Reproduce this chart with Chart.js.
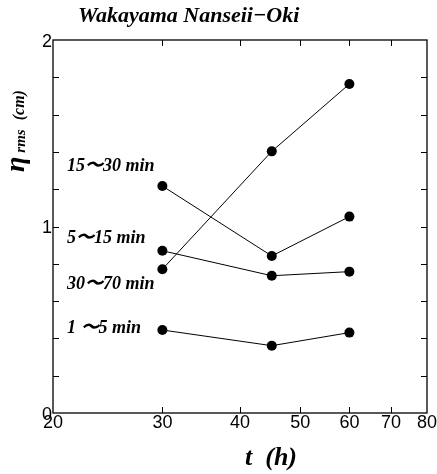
<!DOCTYPE html>
<html><head><meta charset="utf-8">
<script src="https://cdn.jsdelivr.net/npm/chart.js@4.4.1/dist/chart.umd.min.js"></script>
<style>html,body{margin:0;padding:0;background:#fff;}canvas{display:block;}</style>
</head><body>
<canvas id="c" width="437" height="474"></canvas>
<script>
// ---- data ----
const times = [30, 45, 60];
const series1to5   = [0.445, 0.361, 0.431];
const series5to15  = [0.870, 0.736, 0.758];
const series15to30 = [1.217, 0.842, 1.053];
const series30to70 = [0.771, 1.403, 1.764];
const seriesNames = ['1 〜5 min', '5〜15 min', '15〜30 min', '30〜70 min'];
const xTickLabels = [20, 30, 40, 50, 60, 70, 80];
const yTickLabels = [0, 1, 2];
const yMinorTicks = [0.2, 0.4, 0.6, 0.8, 1.0, 1.2, 1.4, 1.6, 1.8];
const chartTitle = 'Wakayama Nanseii\u2212Oki';

const allSeries = [series1to5, series5to15, series15to30, series30to70];
// vertical (value) anchors for the series name labels, placed left of the first points
const labelAnchors = [0.456, 0.938, 1.324, 0.692];

const SERIF = '"Liberation Serif", "Times New Roman", serif';
const SANS = '"Liberation Sans", Arial, sans-serif';

const framePlugin = {
  id: 'frame',
  afterDatasetsDraw(chart) {
    const {ctx, chartArea: a, scales: {x, y}} = chart;
    ctx.save();
    ctx.strokeStyle = '#000';
    ctx.lineWidth = 1.3;
    ctx.strokeRect(a.left, a.top, a.right - a.left, a.bottom - a.top);
    ctx.lineWidth = 1;
    ctx.beginPath();
    xTickLabels.slice(1, -1).forEach(v => {
      const px = Math.round(x.getPixelForValue(v)) + 0.5;
      ctx.moveTo(px, a.bottom); ctx.lineTo(px, a.bottom - 6);
      ctx.moveTo(px, a.top); ctx.lineTo(px, a.top + 6);
    });
    yMinorTicks.forEach(v => {
      const py = Math.round(y.getPixelForValue(v)) + 0.5;
      ctx.moveTo(a.left, py); ctx.lineTo(a.left + 6, py);
      ctx.moveTo(a.right, py); ctx.lineTo(a.right - 6, py);
    });
    ctx.stroke();

    // tick labels
    ctx.fillStyle = '#000';
    ctx.font = '18px ' + SANS;
    ctx.textAlign = 'center';
    ctx.textBaseline = 'alphabetic';
    xTickLabels.forEach(v => {
      ctx.fillText(String(v), x.getPixelForValue(v), a.bottom + 15);
    });
    ctx.textAlign = 'right';
    yTickLabels.forEach(v => {
      ctx.fillText(String(v), a.left - 1, y.getPixelForValue(v) + 6.5);
    });

    // series names
    ctx.font = 'italic bold 18px ' + SERIF;
    ctx.textAlign = 'left';
    ctx.textBaseline = 'middle';
    seriesNames.forEach((n, i) => {
      ctx.fillText(n, a.left + 14, y.getPixelForValue(labelAnchors[i]));
    });

    // title
    ctx.font = 'italic bold 22px ' + SERIF;
    ctx.textBaseline = 'alphabetic';
    ctx.textAlign = 'left';
    ctx.fillText(chartTitle, 78, 22);

    // x axis title
    ctx.font = 'italic bold 26px ' + SERIF;
    ctx.textAlign = 'center';
    ctx.fillText('t  (h)', (a.left + a.right) / 2 + 31, 465);

    // y axis title (rotated)
    ctx.save();
    ctx.translate(24, 172);
    ctx.rotate(-Math.PI / 2);
    ctx.textAlign = 'left';
    ctx.font = 'italic bold 28px ' + SERIF;
    ctx.fillText('\u03b7', 0, 0);
    let w = ctx.measureText('\u03b7').width + 4;
    ctx.font = 'italic bold 15px ' + SERIF;
    ctx.fillText('rms', w, 1);
    w += ctx.measureText('rms').width + 9;
    ctx.font = 'italic bold 16px ' + SERIF;
    ctx.fillText('(cm)', w, 0);
    ctx.restore();

    ctx.restore();
  }
};

new Chart(document.getElementById('c'), {
  type: 'line',
  data: {
    datasets: allSeries.map((s, i) => ({
      label: seriesNames[i],
      data: times.map((t, j) => ({x: t, y: s[j]})),
      borderColor: '#000',
      borderWidth: 1,
      pointRadius: 5,
      pointBackgroundColor: '#000',
      pointBorderColor: '#000',
      pointBorderWidth: 0,
      fill: false,
      tension: 0
    }))
  },
  options: {
    responsive: false,
    animation: false,
    layout: {padding: {left: 53, right: 10, top: 40, bottom: 61}},
    scales: {
      x: {type: 'logarithmic', min: 20, max: 80, display: false},
      y: {type: 'linear', min: 0, max: 2, display: false}
    },
    plugins: {legend: {display: false}, tooltip: {enabled: false}}
  },
  plugins: [framePlugin]
});
</script>
</body></html>
